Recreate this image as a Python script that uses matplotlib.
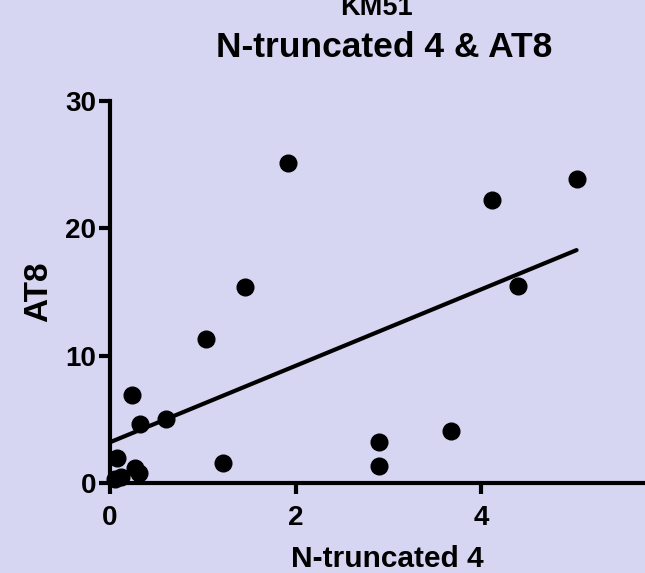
import numpy as np
import matplotlib.pyplot as plt

# values
n_trunc4 = [0.05, 0.12, 0.08, 0.27, 0.31, 0.24, 0.32, 0.60, 1.03, 1.22,
            1.46, 1.92, 2.90, 2.90, 3.68, 4.12, 4.40, 5.03]
at8 = [0.3, 0.5, 2.0, 1.2, 0.8, 6.9, 4.6, 5.0, 11.3, 1.6,
       15.4, 25.1, 3.2, 1.3, 4.1, 22.2, 15.5, 23.9]
fit_intercept = 3.2   # linear fit as drawn in the reference
fit_slope = 3.0
xticks = [0, 2, 4]
yticks = [0, 10, 20, 30]

BG = '#d6d6f2'
plt.rcParams['font.family'] = ['Liberation Sans', 'DejaVu Sans']
plt.rcParams['font.weight'] = 'bold'

fig = plt.figure(figsize=(6.45, 5.73), dpi=100, facecolor=BG)
ax = fig.add_axes([110/645, 90/573, 535/645, 382/573])
ax.set_facecolor(BG)

x = np.array(n_trunc4)
y = np.array(at8)
ax.plot(x, y, 'o', color='black', markersize=12, clip_on=False, zorder=3)

xl = np.array([0, max(x)])
ax.plot(xl, fit_intercept + fit_slope*xl, color='black', linewidth=3, solid_capstyle='round')

ax.set_xlim(0, 535/92.75)
ax.set_ylim(0, 30)
ax.set_xticks(xticks)
ax.set_yticks(yticks)
for s in ['top', 'right']:
    ax.spines[s].set_visible(False)
for s in ['left', 'bottom']:
    ax.spines[s].set_linewidth(3)
ax.tick_params(direction='out', length=8, width=3, labelsize=20)
ax.tick_params(axis='x', pad=8)
ax.tick_params(axis='y', pad=2)
for lab in ax.get_xticklabels() + ax.get_yticklabels():
    lab.set_fontweight('bold')

ax.set_xlabel('N-truncated 4', fontsize=21.5, fontweight='bold', labelpad=10)
ax.xaxis.label.set_x((387 - 110) / 535)
ax.set_ylabel('AT8', fontsize=24, fontweight='bold', labelpad=8)

fig.text(376/645, 1 - 15/573, 'KM51', ha='center', va='baseline', fontsize=19.5, fontweight='bold')
fig.text(384/645, 1 - 57/573, 'N-truncated 4 & AT8', ha='center', va='baseline', fontsize=25.5, fontweight='bold')

fig.savefig('out.png', dpi=100, facecolor=BG)
